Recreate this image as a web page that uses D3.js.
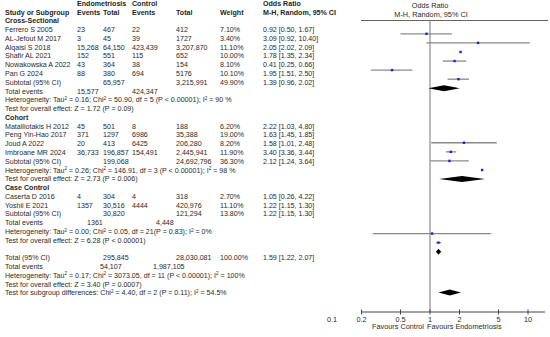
<!DOCTYPE html>
<html>
<head>
<meta charset="utf-8">
<script src="https://cdn.jsdelivr.net/npm/d3@7"></script>
<style>
  body { margin: 0; background: #fff; }
  svg text { font-family: "Liberation Sans", Arial, sans-serif; fill: #2a2a2a; }
  .b { font-weight: bold; fill: #1e1e1e; }
</style>
</head>
<body>
<div id="chart"></div>
<script>
// ---- data ----
const groups = ["Cross-Sectional", "Cohort", "Case Control"];

const studies = ["Ferrero S 2005", "AL-Jefout M 2017", "Alqaisi S 2018", "Shafir AL 2021", "Nowakowska A 2022", "Pan G 2024",
  "Matalliotakis H 2012", "Peng Yin-Hao 2017", "Joud A 2022", "Imbroane MR 2024",
  "Caserta D 2016", "Yoshii E 2021"];
const studyGroup = [0, 0, 0, 0, 0, 0, 1, 1, 1, 1, 2, 2];
const endoEvents = ["23", "3", "15,268", "152", "43", "88", "45", "371", "20", "36,733", "4", "1357"];
const endoTotal = ["467", "45", "64,150", "551", "364", "380", "501", "1297", "413", "196,857", "304", "30,516"];
const ctrlEvents = ["22", "39", "423,439", "115", "38", "694", "8", "6986", "6425", "154,491", "4", "4444"];
const ctrlTotal = ["412", "1727", "3,207,870", "652", "154", "5176", "188", "35,388", "206,280", "2,445,941", "318", "420,976"];
const weights = [7.10, 3.40, 11.10, 10.00, 8.10, 10.10, 6.20, 19.00, 8.20, 11.90, 2.70, 11.10];
const orVal = [0.92, 3.09, 2.05, 1.78, 0.41, 1.95, 2.22, 1.63, 1.58, 3.40, 1.05, 1.22];
const orLo = [0.50, 0.92, 2.02, 1.35, 0.25, 1.51, 1.03, 1.45, 1.01, 3.36, 0.26, 1.15];
const orHi = [1.67, 10.40, 2.09, 2.34, 0.66, 2.50, 4.80, 1.85, 2.48, 3.44, 4.22, 1.30];

// subtotals per group, then overall
const subEndoTotal = ["65,957", "199,068", "30,820"];
const subCtrlTotal = ["3,215,991", "24,692,796", "121,294"];
const subWeight = [49.90, 36.30, 13.80];
const subOr = [1.39, 2.12, 1.22];
const subLo = [0.96, 1.24, 1.15];
const subHi = [2.02, 3.64, 1.30];
const subEndoEvents = ["15,577", null, "1361"];
const subCtrlEvents = ["424,347", null, "4,448"];
const subHet = [
  ["0.16", "50.90", "5 ", "(P < 0.00001)", "90 %"],
  ["0.26", "146.91", "3 ", "(P < 0.00001)", "98 %"],
  ["0.00", "0.05", "21", "(P = 0.83)", "0%"]
];
const subTest = ["Z = 1.72 (P = 0.09)", "Z = 2.73 (P = 0.006)", "Z = 6.28 (P < 0.00001)"];

const totEndoTotal = "295,845", totCtrlTotal = "28,030,081", totWeight = 100.00;
const totOr = 1.59, totLo = 1.22, totHi = 2.07;
const totEndoEvents = "54,107", totCtrlEvents = "1,987,105";
const totHet = ["0.17", "3073.05", "11 ", "(P < 0.00001)", "100%"];
const totTest = "Z = 3.40 (P = 0.0007)";
const subgroupTest = ["4.40", "2 (P = 0.11)", "54.5%"];

const axisTicks = [0.2, 0.5, 1, 2, 5, 10];
const axisTickLabels = ["0.2", "0.5", "1", "2", "5", "10"];

// ---- layout ----
const W = 550, H = 337;
const svg = d3.select("#chart").append("svg").attr("width", W).attr("height", H);

const fs = 7.1;
const col = { study: 5, ee: 77, et: 103, ce: 132, ct: 176, w: 220, ci: 263 };
const rowY = k => 14.5 + 8.78 * k;          // text baseline of table row k
const fmt2 = d3.format(".2f");
const ciText = (o, l, h) => `${fmt2(o)} [${fmt2(l)}, ${fmt2(h)}]`;

const T = svg.append("g").style("font-size", fs + "px");
function txt(x, k, s, cls) {
  return T.append("text").attr("x", x).attr("y", rowY(k)).attr("class", cls || null).text(s);
}
function supLine(x, k, parts) {
  // parts: [text, isSup, backToBaseline]
  const t = T.append("text").attr("x", x).attr("y", rowY(k));
  parts.forEach(p => {
    const ts = t.append("tspan").text(p[0]);
    if (p[1]) ts.attr("dy", -2.5).style("font-size", "4.6px");
    else if (p[2]) ts.attr("dy", 2.5);
  });
}
function hetLine(k, h) {
  supLine(col.study, k, [["Heterogeneity: Tau"], ["2", true], [" = " + h[0] + "; Chi", false, true], ["2", true],
    [" = " + h[1] + ", df = " + h[2] + h[3] + "; I", false, true], ["2", true], [" = " + h[4], false, true]]);
}

// headers
txt(col.ee, -1, "Endometriosis", "b");
txt(col.ce, -1, "Control", "b");
txt(col.ci, -1, "Odds Ratio", "b");
txt(col.study, 0, "Study or Subgroup", "b");
txt(col.ee, 0, "Events", "b");
txt(col.et, 0, "Total", "b");
txt(col.ce, 0, "Events", "b");
txt(col.ct, 0, "Total", "b");
txt(col.w, 0, "Weight", "b");
txt(col.ci, 0, "M-H, Random, 95% CI", "b");

// forest plot scales
const x = d3.scaleLog().domain([0.1, 10]).range([332, 528]);
const plotStart = [0, 12, 22];     // plot row where each group begins
const plotTotalRow = 28.5;
const py = j => 33.8 + 9.08 * j;
const P = svg.append("g");
const pfs = "7.3px";

P.append("line").attr("x1", 361).attr("x2", 548).attr("y1", 20.5).attr("y2", 20.5)
  .attr("stroke", "#666").attr("stroke-width", 1);
P.append("line").attr("x1", x(1)).attr("x2", x(1)).attr("y1", 20.5).attr("y2", 312)
  .attr("stroke", "#777").attr("stroke-width", 1);
P.append("text").attr("x", 430).attr("y", 8.4).attr("text-anchor", "middle")
  .style("font-size", pfs).attr("fill", "#333").text("Odds Ratio");
P.append("text").attr("x", 431).attr("y", 17.2).attr("text-anchor", "middle")
  .style("font-size", pfs).attr("fill", "#333").text("M-H, Random, 95% CI");

function diamond(o, l, h, yy) {
  P.append("path")
    .attr("d", `M${x(l)},${yy}L${x(o)},${yy - 3}L${x(h)},${yy}L${x(o)},${yy + 3}Z`)
    .attr("fill", "#000");
}

let k = 1;
groups.forEach((g, gi) => {
  txt(col.study, k, g, "b");
  k++;
  let j = plotStart[gi];
  studies.forEach((s, i) => {
    if (studyGroup[i] !== gi) return;
    txt(col.study, k, s);
    txt(col.ee, k, endoEvents[i]);
    txt(col.et, k, endoTotal[i]);
    txt(col.ce, k, ctrlEvents[i]);
    txt(col.ct, k, ctrlTotal[i]);
    txt(col.w, k, fmt2(weights[i]) + "%");
    txt(col.ci, k, ciText(orVal[i], orLo[i], orHi[i]));
    P.append("line").attr("x1", x(orLo[i])).attr("x2", x(orHi[i]))
      .attr("y1", py(j)).attr("y2", py(j)).attr("stroke", "#8a8a8a").attr("stroke-width", 1.3);
    P.append("rect").attr("x", x(orVal[i]) - 1.2).attr("y", py(j) - 1.2)
      .attr("width", 2.4).attr("height", 2.4).attr("fill", "#1a1aff");
    k++; j++;
  });
  txt(col.study, k, "Subtotal (95% CI)");
  txt(col.et, k, subEndoTotal[gi]);
  txt(col.ct, k, subCtrlTotal[gi]);
  txt(col.w, k, fmt2(subWeight[gi]) + "%");
  txt(col.ci, k, ciText(subOr[gi], subLo[gi], subHi[gi]));
  diamond(subOr[gi], subLo[gi], subHi[gi], py(j));
  k++;
  if (subEndoEvents[gi]) {
    txt(col.study, k, "Total events");
    txt(gi === 2 ? 87 : col.ee, k, subEndoEvents[gi]);
    txt(gi === 2 ? 156 : col.ce, k, subCtrlEvents[gi]);
    k++;
  }
  hetLine(k, subHet[gi]); k++;
  txt(col.study, k, "Test for overall effect: " + subTest[gi]); k++;
});

k++;
txt(col.study, k, "Total (95% CI)");
txt(col.et, k, totEndoTotal);
txt(col.ct, k, totCtrlTotal);
txt(col.w, k, fmt2(totWeight) + "%");
txt(col.ci, k, ciText(totOr, totLo, totHi));
diamond(totOr, totLo, totHi, py(plotTotalRow));
k++;
txt(col.study, k, "Total events");
txt(100, k, totEndoEvents);
txt(153, k, totCtrlEvents);
k++;
hetLine(k, totHet); k++;
txt(col.study, k, "Test for overall effect: " + totTest); k++;
supLine(col.study, k, [["Test for subgroup differences: Chi"], ["2", true],
  [" = " + subgroupTest[0] + ", df = " + subgroupTest[1] + "; I", false, true], ["2", true], [" = " + subgroupTest[2], false, true]]);

// axis
const axY = 312;
P.append("line").attr("x1", 361).attr("x2", 545).attr("y1", axY).attr("y2", axY)
  .attr("stroke", "#444").attr("stroke-width", 1);
P.selectAll(".tk").data(axisTicks).enter().append("line")
  .attr("x1", d => x(d)).attr("x2", d => x(d)).attr("y1", axY - 2.5).attr("y2", axY + 2.5)
  .attr("stroke", "#444");
P.selectAll(".tl").data(axisTickLabels).enter().append("text")
  .attr("x", (d, i) => x(axisTicks[i])).attr("y", axY + 9.5).attr("text-anchor", "middle")
  .style("font-size", pfs).attr("fill", "#333").text(d => d);
P.append("text").attr("x", x(0.1)).attr("y", axY + 9.5).attr("text-anchor", "middle")
  .style("font-size", pfs).attr("fill", "#333").text("0.1");
P.append("text").attr("x", 424).attr("y", axY + 17).attr("text-anchor", "end")
  .style("font-size", pfs).attr("fill", "#333").text("Favours Control");
P.append("text").attr("x", 427).attr("y", axY + 17)
  .style("font-size", pfs).attr("fill", "#333").text("Favours Endometriosis");
</script>
</body>
</html>
